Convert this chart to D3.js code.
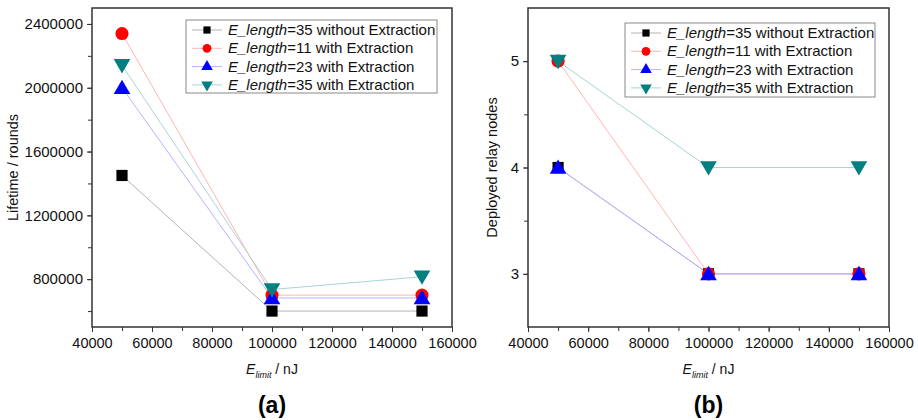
<!DOCTYPE html>
<html><head><meta charset="utf-8">
<script src="https://cdn.jsdelivr.net/npm/d3@7"></script>
<style>body{margin:0;background:#fff;} text{font-family:"Liberation Sans",Arial,sans-serif;}</style>
</head><body>
<svg id="c" width="918" height="420"></svg>
<script>
const xValues = [50000, 100000, 150000];
const seriesNames = ["35 without Extraction", "11 with Extraction", "23 with Extraction", "35 with Extraction"];
const lifetimeNoExtr35 = [1450000, 600000, 600000];
const lifetimeExtr11 = [2340000, 700000, 700000];
const lifetimeExtr23 = [2000000, 682000, 682000];
const lifetimeExtr35 = [2140000, 735000, 815000];
const relayNoExtr35 = [4, 3, 3];
const relayExtr11 = [5, 3, 3];
const relayExtr23 = [4, 3, 3];
const relayExtr35 = [5, 4, 4];
const xTicks = [40000, 60000, 80000, 100000, 120000, 140000, 160000];
const yTicksA = [800000, 1200000, 1600000, 2000000, 2400000];
const yTicksB = [3, 4, 5];

const markerColors = ["#000000", "#ff0000", "#0000ff", "#008080"];
const lineColors = ["#b4b4b4", "#ffb4b4", "#b4b4ff", "#a8d4d4"];
const symbols = [d3.symbolSquare, d3.symbolCircle, d3.symbolTriangle, d3.symbolTriangle];
const rotations = [0, 0, 0, 180];
const markerSizes = [125, 135, 120, 120];
const legendSizes = [52, 60, 58, 58];

const svg = d3.select("#c");

function panel(opts) {
  const g = svg.append("g");
  const x = d3.scaleLinear().domain([40000, 160000]).range([opts.x0, opts.x1]);
  const y = d3.scaleLinear().domain(opts.yDomain).range([opts.y1, opts.y0]);

  const xMinor = d3.range(40000, 160001, 10000);
  g.append("g").attr("transform", `translate(0,${opts.y1})`)
    .call(d3.axisBottom(x).tickValues(xMinor).tickSize(4).tickFormat(""))
    .call(a => a.select(".domain").remove())
    .selectAll("line").attr("stroke", "#333");
  const xa = g.append("g").attr("transform", `translate(0,${opts.y1})`)
    .call(d3.axisBottom(x).tickValues(xTicks).tickSize(5).tickPadding(6).tickFormat(d3.format("d")));
  xa.select(".domain").remove();
  xa.selectAll("line").attr("stroke", "#333");
  xa.selectAll("text").attr("font-size", 14.5).attr("fill", "#111");

  g.append("g").attr("transform", `translate(${opts.x0},0)`)
    .call(d3.axisLeft(y).tickValues(opts.yMinor).tickSize(4).tickFormat(""))
    .call(a => a.select(".domain").remove())
    .selectAll("line").attr("stroke", "#333");
  const ya = g.append("g").attr("transform", `translate(${opts.x0},0)`)
    .call(d3.axisLeft(y).tickValues(opts.yTicks).tickSize(5).tickPadding(4).tickFormat(d3.format("d")));
  ya.select(".domain").remove();
  ya.selectAll("line").attr("stroke", "#333");
  ya.selectAll("text").attr("font-size", 15).attr("fill", "#111");

  g.append("rect").attr("x", opts.x0).attr("y", opts.y0)
    .attr("width", opts.x1 - opts.x0).attr("height", opts.y1 - opts.y0)
    .attr("fill", "none").attr("stroke", "#333").attr("stroke-width", 1.5);

  const line = d3.line().x((d, i) => x(xValues[i])).y(d => y(d));
  opts.series.forEach((s, k) => {
    g.append("path").datum(s).attr("d", line).attr("fill", "none")
      .attr("stroke", lineColors[k]).attr("stroke-width", 1);
  });
  opts.series.forEach((s, k) => {
    g.selectAll(null).data(s).enter().append("path")
      .attr("d", d3.symbol().type(symbols[k]).size(markerSizes[k]))
      .attr("transform", (d, i) => `translate(${x(xValues[i])},${y(d) + (k === 2 ? 1.5 : k === 3 ? -1.5 : 0)}) rotate(${rotations[k]})`)
      .attr("fill", markerColors[k]);
  });

  const L = opts.legend;
  g.append("rect").attr("x", L.x).attr("y", L.y).attr("width", L.w).attr("height", L.h)
    .attr("fill", "#fff").attr("stroke", "#888").attr("stroke-width", 1);
  seriesNames.forEach((name, k) => {
    const yy = L.y + 10 + k * 18.3;
    g.append("line").attr("x1", L.x + 6).attr("x2", L.x + 36).attr("y1", yy).attr("y2", yy)
      .attr("stroke", lineColors[k]).attr("stroke-width", 1);
    g.append("path").attr("d", d3.symbol().type(symbols[k]).size(legendSizes[k]))
      .attr("transform", `translate(${L.x + 21},${yy}) rotate(${rotations[k]})`)
      .attr("fill", markerColors[k]);
    const t = g.append("text").attr("x", L.x + 42).attr("y", yy + 5).attr("font-size", 15).attr("fill", "#111");
    t.append("tspan").attr("font-style", "italic").text("E_length");
    t.append("tspan").text("=" + name);
  });

  const cx = (opts.x0 + opts.x1) / 2;
  const xt = g.append("text").attr("x", cx).attr("y", 374).attr("text-anchor", "middle").attr("font-size", 14).attr("fill", "#111");
  xt.append("tspan").attr("font-style", "italic").text("E");
  xt.append("tspan").attr("font-style", "italic").attr("font-size", 9).attr("dy", 4).text("limit");
  xt.append("tspan").attr("dy", -4).text(" / nJ");

  g.append("text").attr("transform", `translate(${opts.ylabX},${(opts.y0 + opts.y1) / 2}) rotate(-90)`)
    .attr("text-anchor", "middle").attr("font-size", 14.5).attr("fill", "#111").text(opts.ylab);

  g.append("text").attr("x", cx).attr("y", 413).attr("text-anchor", "middle")
    .attr("font-size", 23).attr("font-weight", "bold").attr("fill", "#000").text(opts.tag);
}

panel({
  x0: 92, x1: 452, y0: 8, y1: 327,
  yDomain: [500000, 2500000], yTicks: yTicksA, yMinor: d3.range(600000, 2500001, 200000),
  series: [lifetimeNoExtr35, lifetimeExtr11, lifetimeExtr23, lifetimeExtr35],
  legend: {x: 186, y: 20, w: 251, h: 73},
  ylab: "Lifetime / rounds", ylabX: 18, tag: "(a)"
});
panel({
  x0: 528, x1: 889, y0: 8, y1: 327,
  yDomain: [2.5, 5.5], yTicks: yTicksB, yMinor: [3, 3.5, 4, 4.5, 5],
  series: [relayNoExtr35, relayExtr11, relayExtr23, relayExtr35],
  legend: {x: 625, y: 23, w: 250, h: 74},
  ylab: "Deployed relay nodes", ylabX: 497, tag: "(b)"
});
</script>
</body></html>
